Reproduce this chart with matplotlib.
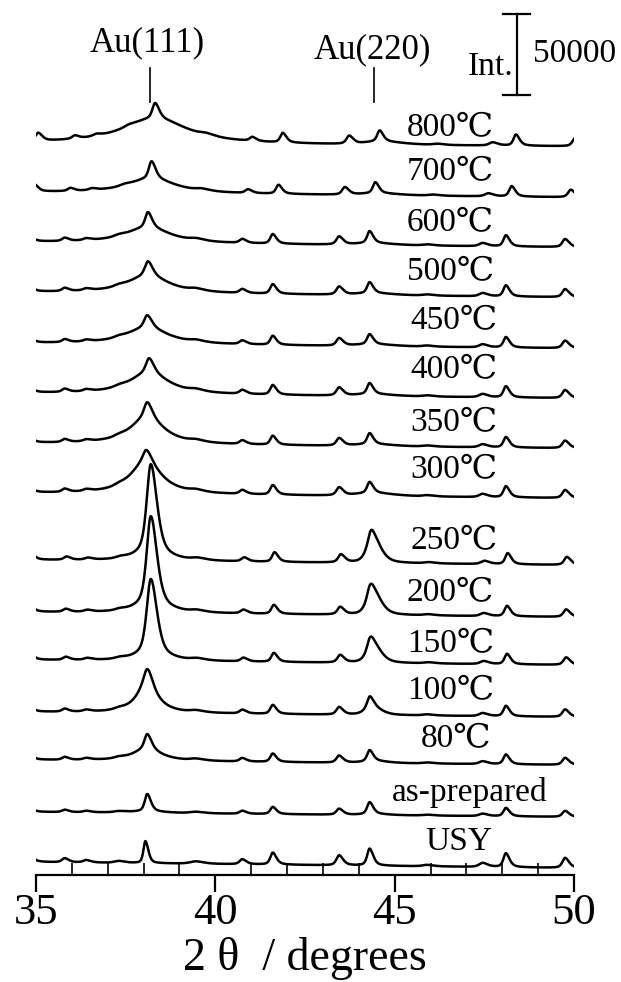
import numpy as np
import matplotlib
matplotlib.use('Agg')
import matplotlib.pyplot as plt

plt.rcParams['font.family'] = ['Liberation Serif', 'DejaVu Serif', 'DejaVu Sans']

# ---- data (counts) ----
samples = ['USY', 'as-prepared', '80℃', '100℃', '150℃', '200℃', '250℃', '300℃',
           '350℃', '400℃', '450℃', '500℃', '600℃', '700℃', '800℃']
offset = [8000, 38900, 71000, 100600, 132700, 162300, 194400, 235700,
          266500, 297400, 328200, 359700, 390600, 421400, 451600]
tilt = [3700, 3100, 3100, 3100, 3100, 3100, 3100, 3100,
        3100, 3100, 3100, 3100, 3100, 3100, 1900]
shift = [0, 0, 0, 0, 0.03, 0.03, 0.05, 0, 0, 0, 0, 0, 0, 0.16, 0.28]
zeo_scale = [1.0, 0.6, 0.7, 0.75, 0.75, 0.75, 0.8, 0.8,
             0.75, 0.8, 0.75, 0.8, 0.8, 0.75, 0.8]

# other zeolite (USY) reflections
zeo_pos = [34.78, 35.8, 36.4, 37.3, 39.45, 40.75, 41.6, 43.45, 45.9, 47.45, 48.1, 49.75]
zeo_h = [6200, 2500, 1500, 1200, 1500, 3100, 7400, 6200, 900, 2500, 8600, 6200]
zeo_w = [0.22, 0.22, 0.25, 0.35, 0.45, 0.22, 0.2, 0.22, 0.35, 0.28, 0.2, 0.22]

# peak near 38.1 (Au(111) + zeolite): sharp part and broad part
p111_pos = [38.05, 38.1, 38.1, 38.1, 38.2, 38.2, 38.2, 38.07,
            38.1, 38.15, 38.1, 38.12, 38.12, 38.22, 38.32]
p111_h = [13600, 10500, 8600, 7400, 44400, 52400, 52400, 6200,
          8600, 8600, 7400, 8600, 9300, 10500, 9300]
p111_w = [0.16, 0.2, 0.22, 0.25, 0.33, 0.33, 0.33, 0.25,
          0.25, 0.25, 0.25, 0.25, 0.22, 0.22, 0.22]
b111_h = [0, 1200, 8000, 19700, 6200, 7400, 7400, 21000,
          17300, 13600, 10500, 11100, 9900, 9300, 16000]
b111_w = [1.0, 1.0, 0.9, 0.65, 0.9, 0.9, 0.9, 1.0,
          1.1, 1.3, 1.4, 1.4, 1.5, 1.6, 2.2]

# peak near 44.3 (Au(200) region + zeolite): sharp part and broad part
p220_pos = [44.3, 44.3, 44.3, 44.3, 44.3, 44.3, 44.33, 44.3,
            44.3, 44.3, 44.3, 44.3, 44.3, 44.46, 44.58]
p220_h = [10500, 7400, 6800, 6200, 4900, 4900, 4900, 6800,
          6800, 6800, 6200, 6800, 7400, 6800, 6800]
b220_pos = [44.4, 44.4, 44.4, 44.35, 44.38, 44.38, 44.38, 44.35,
            44.35, 44.35, 44.35, 44.35, 44.35, 44.5, 44.6]
b220_h = [0, 600, 1200, 5500, 12300, 15400, 16000, 1900,
          1200, 1200, 1200, 1200, 1200, 1200, 1900]
b220_w = [0.5, 0.8, 0.8, 0.5, 0.45, 0.45, 0.45, 1.2,
          1.2, 1.2, 1.2, 1.2, 1.2, 1.2, 1.2]

# label placement (right edge in 2theta, vertical centre in pixels)
label_x = [47.71, 49.25, 47.71, 47.77, 47.77, 47.77, 47.88, 47.88,
           47.88, 47.88, 47.88, 47.77, 47.77, 47.77, 47.77]
label_py = [842, 793, 739, 691, 644, 593, 541, 470, 423, 370, 321, 272, 223, 172, 128]

CNT_PER_PX = 50000 / 81.0
AX_BOTTOM_PX = 875


def py2y(py):
    return (AX_BOTTOM_PX - py) * CNT_PER_PX


def pv(x, x0, fwhm, eta=0.6):
    # split pseudo-Voigt, tail on the high-angle side
    w = np.where(x < x0, fwhm * 0.8, fwhm * 1.2)
    g = np.exp(-4 * np.log(2) * ((x - x0) / w) ** 2)
    l = 1.0 / (1 + 4 * ((x - x0) / w) ** 2)
    return eta * l + (1 - eta) * g


def lor(x, x0, fwhm):
    return 1.0 / (1 + 4 * ((x - x0) / fwhm) ** 2)


tt = np.linspace(35, 50, 3001)

fig = plt.figure(figsize=(6.21, 9.82), dpi=100)
ax = fig.add_axes([36 / 621, (982 - AX_BOTTOM_PX) / 982, 538 / 621, AX_BOTTOM_PX / 982])

for i in range(len(samples)):
    y = offset[i] - tilt[i] * (tt - 35) / 15.0
    for p, h, w in zip(zeo_pos, zeo_h, zeo_w):
        y = y + zeo_scale[i] * h * pv(tt, p + shift[i], w)
    y = y + p111_h[i] * pv(tt, p111_pos[i], p111_w[i], 0.5)
    y = y + b111_h[i] * lor(tt, p111_pos[i], b111_w[i])
    y = y + p220_h[i] * pv(tt, p220_pos[i], 0.2)
    y = y + b220_h[i] * pv(tt, b220_pos[i], b220_w[i], 0.5)
    ax.plot(tt, y, color='black', lw=1.8)
    ax.text(label_x[i], py2y(label_py[i]), samples[i], ha='right', va='center',
            fontsize=24)

# peak markers
ax.plot([38.18, 38.18], [py2y(102), py2y(68)], color='black', lw=1.2)
ax.text(38.1, py2y(43), 'Au(111)', ha='center', va='center', fontsize=25)
ax.plot([44.41, 44.41], [py2y(102), py2y(68)], color='black', lw=1.2)
ax.text(44.39, py2y(50), 'Au(220)', ha='center', va='center', fontsize=25)

# intensity scale bar
bar_x = 48.41
ax.plot([bar_x, bar_x], [py2y(95), py2y(95) + 50000], color='black', lw=1.6)
ax.plot([48.02, 48.77], [py2y(95), py2y(95)], color='black', lw=1.6)
ax.plot([48.02, 48.77], [py2y(95) + 50000, py2y(95) + 50000], color='black', lw=1.6)
ax.text(48.32, py2y(75), 'Int.', ha='right', va='baseline', fontsize=24)
ax.text(48.85, py2y(54), '50000', ha='left', va='center', fontsize=24)

ax.set_xlim(35, 50)
ax.set_ylim(0, AX_BOTTOM_PX * CNT_PER_PX)
for s in ['top', 'left', 'right']:
    ax.spines[s].set_visible(False)
ax.spines['bottom'].set_linewidth(1.6)
ax.set_yticks([])
ax.set_xticks([35, 40, 45, 50])
ax.set_xticks(np.arange(36, 50, 1), minor=True)
ax.tick_params(axis='x', which='major', direction='out', length=12, width=1.6,
               labelsize=32, pad=1)
ax.tick_params(axis='x', which='minor', direction='in', length=9, width=1.2)
ax.set_xlabel('2 θ  / degrees', fontsize=33, labelpad=3)
ax.patch.set_alpha(0)

fig.savefig('out.png', dpi=100)
